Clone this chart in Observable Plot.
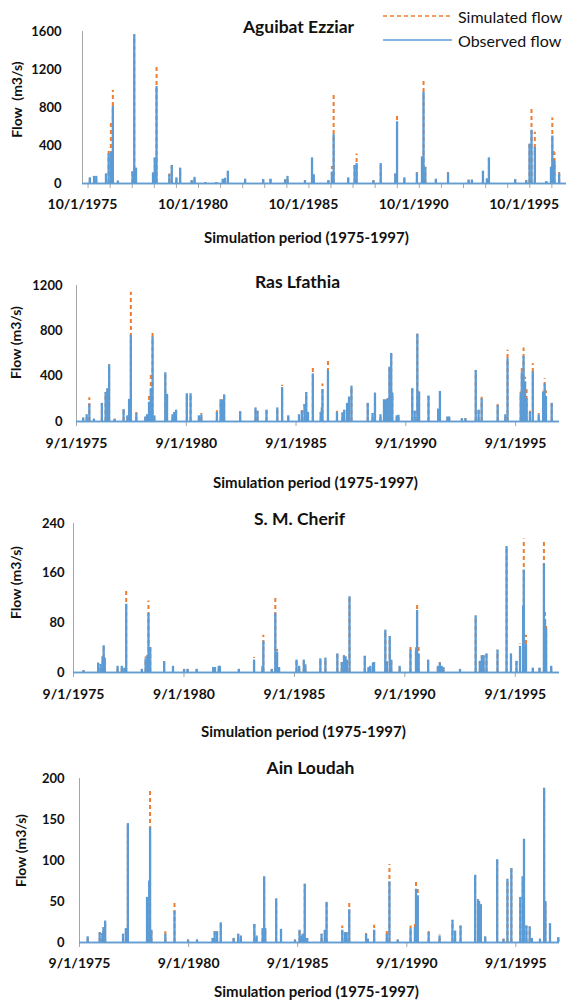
<!DOCTYPE html>
<html><head><meta charset="utf-8">
<script src="https://cdn.jsdelivr.net/npm/d3@7"></script>
<script src="https://cdn.jsdelivr.net/npm/@observablehq/plot@0.6"></script>
<style>
body{margin:0;background:#fff;width:566px;font-family:Lato,"Open Sans",sans-serif;}
svg{display:block}
#wrap{position:relative;width:566px;}
#legend{position:absolute;left:383px;top:4px;font:16px Lato,sans-serif;color:#111;}
#legend .row{display:flex;align-items:center;height:24px;}
#legend svg{margin-right:6px}
</style>
</head><body><div id="wrap"><div id="chart"></div><div id="legend"></div></div>
<script>
// ---------- data ----------
const stationNames = ["Aguibat Ezziar", "Ras Lfathia", "S. M. Cherif", "Ain Loudah"];
const yAxisLabels = ["Flow\u00a0 (m3/s)", "Flow (m3/s)", "Flow (m3/s)", "Flow (m3/s)"];
const xAxisLabel = "Simulation period (1975-1997)";
const legendLabels = ["Simulated flow", "Observed flow"];

const yTicks = [
  [0, 400, 800, 1200, 1600],
  [0, 400, 800, 1200],
  [0, 80, 160, 240],
  [0, 50, 100, 150, 200]
];
const xTickDates1 = ["1975-10-01", "1980-10-01", "1985-10-01", "1990-10-01", "1995-10-01"];
const xTickLabels1 = ["10/1/1975", "10/1/1980", "10/1/1985", "10/1/1990", "10/1/1995"];
const xTickDates = ["1975-09-01", "1980-09-01", "1985-09-01", "1990-09-01", "1995-09-01"];
const xTickLabels = ["9/1/1975", "9/1/1980", "9/1/1985", "9/1/1990", "9/1/1995"];

// [decimal year, observed, simulated]
const aguibatPeaks = [
  [1976.08,60,60],[1976.27,75,75],[1976.37,75,75],[1976.81,100,100],[1976.93,310,370],
  [1977.03,330,640],[1977.12,810,980],[1977.35,25,25],[1978.01,125,125],[1978.09,1565,1565],
  [1978.17,160,160],[1978.94,110,110],[1979.02,270,280],[1979.10,1020,1225],[1979.68,95,100],
  [1979.79,190,210],[1980.00,60,60],[1980.17,160,160],[1980.69,30,30],[1980.82,65,65],
  [1981.31,10,10],[1981.80,10,10],[1982.10,45,45],[1982.20,55,55],[1982.33,130,130],
  [1983.11,45,45],[1983.93,40,40],[1984.26,45,45],[1984.92,40,40],[1985.03,75,75],
  [1985.82,30,30],[1986.14,270,270],[1986.22,90,90],[1986.88,30,30],[1987.04,120,180],
  [1987.12,515,950],[1987.78,60,60],[1988.07,190,200],[1988.16,210,310],[1988.92,30,30],
  [1989.25,210,210],[1989.91,100,100],[1989.99,650,720],[1990.32,60,70],[1990.89,110,130],
  [1991.12,280,285],[1991.19,960,1075],[1991.27,170,170],[1991.75,45,45],[1992.30,110,120],
  [1993.23,35,35],[1993.38,35,35],[1993.88,130,130],[1994.06,50,50],[1994.15,270,285],
  [1995.34,40,40],[1995.84,30,30],[1995.99,415,415],[1996.08,560,780],[1996.23,380,540],
  [1996.75,20,20],[1996.96,170,170],[1997.02,500,690],[1997.08,240,360],[1997.12,230,320],
  [1997.33,100,140]
];
const rasPeaks = [
  [1975.97,30,30],[1976.13,60,60],[1976.25,150,210],[1976.46,20,20],[1976.82,160,160],
  [1976.99,255,255],[1977.07,290,290],[1977.15,500,500],[1977.40,20,20],[1977.81,105,105],
  [1977.98,50,50],[1978.06,195,195],[1978.14,760,1140],[1978.39,70,80],[1978.80,40,40],
  [1978.88,60,60],[1978.97,170,220],[1979.05,290,430],[1979.13,745,800],[1979.21,50,50],
  [1979.71,430,430],[1979.79,240,240],[1980.04,60,60],[1980.12,80,80],[1980.20,100,100],
  [1980.69,245,245],[1980.86,245,245],[1981.24,50,60],[1981.35,60,70],[1982.06,80,95],
  [1982.23,190,190],[1982.29,190,190],[1982.39,235,235],[1983.12,85,85],[1983.82,120,120],
  [1983.91,90,90],[1984.32,100,100],[1984.81,120,120],[1985.03,300,320],[1985.31,50,50],
  [1985.80,60,60],[1985.93,90,100],[1986.05,150,150],[1986.13,255,255],[1986.21,80,80],
  [1986.43,420,480],[1986.79,80,80],[1986.84,120,120],[1986.87,280,330],[1987.12,450,530],
  [1987.53,80,90],[1987.78,75,75],[1987.86,100,100],[1987.99,160,160],[1988.08,215,215],
  [1988.19,310,310],[1988.93,160,160],[1989.15,70,70],[1989.26,250,250],[1989.51,60,60],
  [1989.67,190,190],[1989.76,190,190],[1989.84,200,200],[1989.92,480,480],[1990.00,600,600],
  [1990.05,250,250],[1990.25,50,50],[1990.33,55,55],[1990.96,290,290],[1991.07,90,90],
  [1991.19,770,770],[1991.27,260,260],[1991.70,225,225],[1992.14,110,110],[1992.22,265,265],
  [1992.56,40,40],[1992.64,40,40],[1993.22,25,25],[1993.38,25,25],[1993.85,450,450],
  [1993.98,100,110],[1994.12,200,215],[1994.85,140,150],[1995.20,60,60],[1995.30,555,628],
  [1995.90,250,260],[1995.95,430,470],[1996.03,575,648],[1996.10,350,390],[1996.17,200,280],
  [1996.32,80,90],[1996.45,440,510],[1996.72,60,70],[1996.92,260,260],[1996.99,332,378],
  [1997.05,220,270],[1997.31,160,185]
];
const cherifPeaks = [
  [1976.12,3,3],[1976.78,15,15],[1976.89,13,13],[1976.98,25,25],[1977.03,43,43],
  [1977.08,23,23],[1977.66,10,10],[1977.85,10,10],[1977.97,7,7],[1978.05,110,135],
  [1978.76,5,5],[1978.93,22,25],[1979.01,27,27],[1979.06,95,115],[1979.14,40,40],
  [1979.77,17,20],[1980.17,10,11],[1980.67,5,5],[1980.83,5,5],[1981.24,5,5],
  [1981.99,8,8],[1982.07,8,8],[1982.24,10,10],[1982.29,10,10],[1983.15,5,5],
  [1983.84,20,24],[1984.22,10,10],[1984.26,50,60],[1984.64,5,5],[1984.80,95,123],
  [1984.88,33,37],[1984.97,8,8],[1985.76,20,20],[1985.88,10,10],[1986.09,20,20],
  [1986.16,12,12],[1986.84,22,22],[1987.07,23,23],[1987.61,30,30],[1987.81,16,16],
  [1987.91,27,27],[1987.98,25,25],[1988.04,20,20],[1988.16,122,122],[1988.85,26,26],
  [1989.02,8,8],[1989.10,10,10],[1989.22,15,15],[1989.27,16,16],[1989.78,68,68],
  [1989.85,17,17],[1989.98,58,58],[1990.05,20,20],[1990.43,10,11],[1990.92,36,45],
  [1991.17,35,40],[1991.22,100,112],[1991.29,30,45],[1991.72,20,22],[1992.16,10,10],
  [1992.25,15,16],[1992.33,10,10],[1992.41,8,8],[1993.16,5,5],[1993.87,91,91],
  [1994.06,18,18],[1994.15,27,27],[1994.23,27,27],[1994.36,30,30],[1994.86,36,36],
  [1995.27,203,203],[1995.47,30,30],[1995.72,18,20],[1995.88,42,46],[1996.02,107,107],
  [1996.05,165,215],[1996.15,45,60],[1996.46,7,8],[1996.76,7,7],[1996.96,175,210],
  [1997.01,85,100],[1997.06,70,78],[1997.29,10,11]
];
const ainPeaks = [
  [1976.04,7,7],[1976.59,12,12],[1976.71,11,11],[1976.76,18,18],[1976.84,26,26],
  [1977.66,10,10],[1977.79,17,17],[1977.88,145,145],[1978.76,55,55],[1978.86,75,75],
  [1978.90,140,187],[1978.96,15,15],[1979.60,10,13],[1980.02,38,50],[1980.64,3,3],
  [1981.05,3,3],[1981.77,5,7],[1981.86,13,14],[1981.97,13,13],[1982.14,24,25],
  [1982.73,5,5],[1982.94,10,10],[1983.06,8,8],[1983.68,22,22],[1983.78,8,8],
  [1984.06,17,17],[1984.13,80,80],[1984.18,17,17],[1984.68,53,53],[1984.90,16,16],
  [1985.54,3,3],[1985.75,15,15],[1985.82,8,8],[1985.90,10,10],[1985.99,71,71],
  [1986.10,5,5],[1986.76,10,10],[1986.91,15,15],[1986.99,49,49],[1987.71,15,20],
  [1987.83,12,12],[1987.91,12,12],[1988.03,40,48],[1988.80,10,11],[1988.88,4,4],
  [1989.17,15,21],[1989.75,10,14],[1989.87,74,95],[1990.25,3,3],[1990.84,17,20],
  [1991.04,18,23],[1991.09,65,76],[1991.17,57,65],[1991.67,12,15],[1992.17,8,9],
  [1992.76,27,27],[1992.88,14,14],[1993.13,20,20],[1993.80,82,82],[1993.93,52,52],
  [1993.98,50,50],[1994.06,46,46],[1994.26,7,7],[1994.81,101,101],[1995.10,4,4],
  [1995.28,77,77],[1995.46,90,90],[1995.87,55,55],[1995.98,80,80],[1996.04,126,126],
  [1996.15,20,20],[1996.30,19,19],[1996.40,5,5],[1996.77,4,4],[1996.96,188,188],
  [1997.02,50,50],[1997.23,23,23],[1997.61,6,6]
];

// ---------- layout (positions / styles) ----------
const BLUE = "#5b9bd5", ORANGE = "#ed7d31", GRAY = "#a6a6a6", INK = "#111";
const panels = [
  {peaks: aguibatPeaks, h: 250, mt: 31, mb: 67, ml: 82, mr: 0, start: "1975-10-01", end: "1997-08-31",
   tickDates: xTickDates1, tickLabels: xTickLabels1, yearly: true, gap: 21, title: [298, 27], ytitle: [17, 99], xtitle: [306, 238], tickDy: 21},
  {peaks: rasPeaks, h: 250, mt: 35, mb: 79, ml: 76, mr: 7, start: "1975-09-01", end: "1997-09-01",
   tickDates: xTickDates, tickLabels: xTickLabels, yearly: false, gap: 14, title: [297, 32], ytitle: [16, 92], xtitle: [315, 233], tickDy: 22},
  {peaks: cherifPeaks, h: 250, mt: 23, mb: 78, ml: 73, mr: 7, start: "1975-09-01", end: "1997-09-01",
   tickDates: xTickDates, tickLabels: xTickLabels, yearly: false, gap: 9, title: [299, 19], ytitle: [16, 82], xtitle: [303, 232], tickDy: 22},
  {peaks: ainPeaks, h: 253, mt: 28, mb: 61, ml: 79, mr: 7, start: "1975-09-01", end: "1997-09-01",
   tickDates: xTickDates, tickLabels: xTickLabels, yearly: false, gap: 15, title: [310, 18], ytitle: [21, 100], xtitle: [316, 242], tickDy: 21}
];

function toDate(y) {
  const yr = Math.floor(y);
  const a = Date.UTC(yr, 0, 1), b = Date.UTC(yr + 1, 0, 1);
  return new Date(a + (y - yr) * (b - a));
}

function makePanel(p, i) {
  const x0 = new Date(p.start), x1 = new Date(p.end);
  const pk = p.peaks.map(([t, obs, sim]) => ({date: toDate(t), obs, sim}));
  const ticks = yTicks[i];
  const tickD = p.tickDates.map(d => new Date(d));
  const minor = p.yearly ? d3.utcMonth.every(12).range(x0, x1) : tickD;
  const at = (str, X, Y, extra) => Plot.text([str], {frameAnchor: "top-left", textAnchor: "middle", lineAnchor: "middle",
    dx: X - p.ml, dy: Y - p.mt, text: d => d, ...extra});
  return Plot.plot({
    width: 566, height: p.h,
    marginTop: p.mt, marginBottom: p.mb, marginLeft: p.ml, marginRight: p.mr,
    style: {fontFamily: "Lato, 'Open Sans', sans-serif", background: "#fff", overflow: "visible"},
    x: {type: "utc", domain: [x0, x1], axis: null},
    y: {domain: [0, ticks[ticks.length - 1]], axis: null},
    marks: [
      Plot.ruleX([x0], {stroke: GRAY, strokeWidth: 1}),
      Plot.ruleX(minor, {x: d => d, y1: 0, y2: 0, insetBottom: -5, stroke: GRAY, strokeWidth: 1}),
      Plot.ruleY([0], {stroke: GRAY, strokeWidth: 1}),
      Plot.ruleX(pk, {x: "date", y1: 0, y2: "sim", stroke: ORANGE, strokeWidth: 2, strokeDasharray: "4,3"}),
      Plot.ruleX(pk, {x: "date", y1: 0, y2: "obs", stroke: BLUE, strokeWidth: 2.3}),
      Plot.ruleY([0], {stroke: BLUE, strokeWidth: 1.8, strokeOpacity: 0.85}),
      Plot.text(ticks, {x: () => x0, y: d => d, dx: -p.gap, textAnchor: "end", text: d => String(d),
        fontSize: 13, fontWeight: "bold", fill: INK}),
      Plot.text(tickD, {x: d => d, y: () => 0, dy: p.tickDy, text: (d, j) => p.tickLabels[j],
        fontSize: 14, fontWeight: "bold", fill: INK}),
      at(stationNames[i], p.title[0], p.title[1], {fontSize: 17.5, fontWeight: "bold", fill: INK}),
      at(yAxisLabels[i], p.ytitle[0], p.ytitle[1], {rotate: -90, fontSize: 14, fontWeight: "bold", fill: INK}),
      at(xAxisLabel, p.xtitle[0], p.xtitle[1], {fontSize: 15, fontWeight: "bold", fill: INK})
    ]
  });
}

const chart = document.getElementById("chart");
panels.forEach((p, i) => chart.appendChild(makePanel(p, i)));

// legend (top-right of first panel)
const legend = document.getElementById("legend");
[[ORANGE, "4,3", legendLabels[0]], [BLUE, null, legendLabels[1]]].forEach(([c, dash, label]) => {
  const row = document.createElement("div");
  row.className = "row";
  row.innerHTML = `<svg width="69" height="6"><line x1="0" y1="3" x2="69" y2="3" stroke="${c}" stroke-width="1.5" ${dash ? `stroke-dasharray="${dash}"` : ""}/></svg><span>${label}</span>`;
  legend.appendChild(row);
});
</script>
</body></html>
